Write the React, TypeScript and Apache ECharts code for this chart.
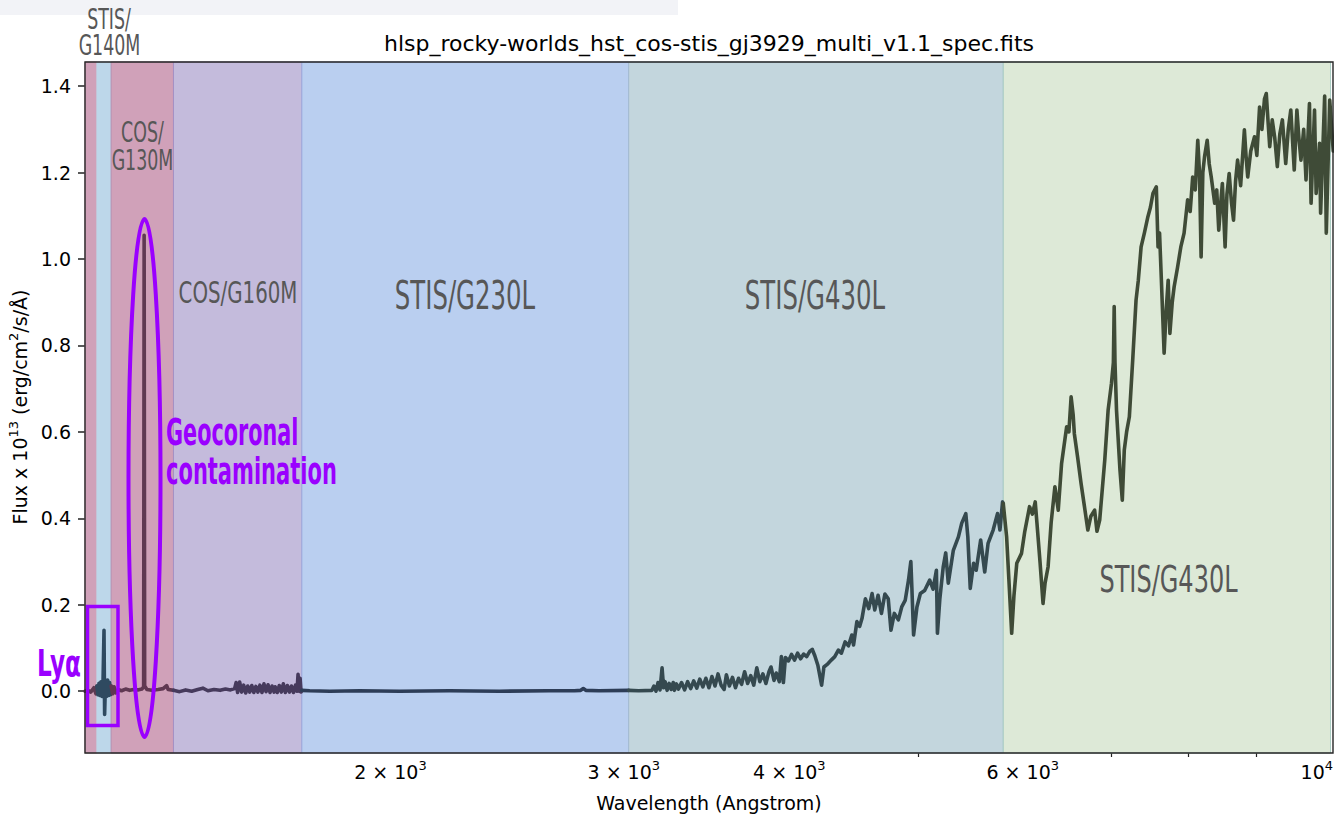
import React, { useEffect, useRef } from 'react';
import * as echarts from 'echarts';

const TITLE = 'hlsp_rocky-worlds_hst_cos-stis_gj3929_multi_v1.1_spec.fits';
const X_NAME = 'Wavelength (Angstrom)';
const X_MIN = 1176.5;
const X_MAX = 10242;
const Y_MIN = -0.143;
const Y_MAX = 1.456;

const xMajorTicks = [2000, 3000, 4000, 6000, 10000];
const xMajorMant = ['2 × 10', '3 × 10', '4 × 10', '6 × 10', '10'];
const xMajorExp = ['3', '3', '3', '3', '4'];
const xMinorTicks = [5000, 7000, 8000, 9000];
const yTicks = [0, 0.2, 0.4, 0.6, 0.8, 1.0, 1.2, 1.4];
const yTickLabels = ['0.0', '0.2', '0.4', '0.6', '0.8', '1.0', '1.2', '1.4'];

// instrument bands (wavelength edges)
const bandEdges = [1176.5, 1201.1, 1231.1, 1372.0, 1714.9, 3025.7, 5800.4, 10242];
const bandFill = ['#d0a1b9', '#bdd7ea', '#d0a1b9', '#c4bbdc', '#bacff0', '#c3d6dd', '#dde9d7'];
const bandBorder = ['#d0a1b9', '#bdd7ea', '#b48fb0', '#a590c4', '#9eaedf', '#a3bccf', '#abcdc3'];
const lineColors = ['#5e3a52', '#2f4a60', '#603852', '#463a5c', '#2d3d57', '#35494f', '#3f4b37'];

// spectrum [wavelength (Å), flux x 1e13]
const specG130Ma = [[1176.5, 0.0], [1182.2, 0.002], [1188.5, -0.002], [1194.8, 0.008], [1199.0, -0.006], [1201.1, 0.012]];
const specG140M = [[1201.1, 0.012], [1203.3, -0.008], [1205.4, 0.018], [1207.5, -0.01], [1209.6, 0.022], [1211.8, -0.012], [1213.9, 0.02], [1216.0, 0.141], [1217.3, -0.054], [1219.2, 0.026], [1221.4, -0.012], [1223.6, 0.026], [1225.7, -0.01], [1227.9, 0.02], [1230.0, -0.008], [1231.1, 0.012]];
const specG130M = [[1231.1, 0.012], [1234.4, -0.006], [1237.6, 0.01], [1240.9, -0.004], [1246.4, 0.004], [1253.6, 0.001], [1262.5, 0.005], [1271.4, 0.002], [1280.4, 0.004], [1289.5, 0.003], [1298.6, 0.005], [1302.7, 0.01], [1303.8, 1.055], [1305.0, 0.012], [1310.1, 0.004], [1321.6, 0.002], [1335.7, 0.004], [1347.5, 0.006], [1355.8, 0.013], [1359.4, 0.004], [1366.6, 0.003], [1372.0, 0.002]];
const specG160M = [[1372.0, 0.002], [1386.5, -0.001], [1401.2, 0.003], [1416.1, 0.0], [1431.1, 0.004], [1443.8, 0.007], [1456.6, 0.001], [1472.0, 0.004], [1487.7, 0.002], [1501.7, 0.005], [1514.9, 0.003], [1525.7, 0.006], [1529.7, 0.02], [1533.7, -0.003], [1539.2, 0.021], [1544.6, -0.002], [1550.0, 0.014], [1555.5, -0.004], [1561.0, 0.012], [1566.5, -0.002], [1572.0, 0.013], [1577.6, -0.003], [1583.1, 0.011], [1588.7, -0.002], [1594.3, 0.014], [1600.0, -0.003], [1605.6, 0.017], [1611.3, -0.001], [1617.0, 0.015], [1622.7, -0.003], [1628.4, 0.012], [1634.1, -0.002], [1637.3, 0.01], [1643.1, -0.003], [1648.9, 0.013], [1654.7, -0.002], [1660.5, 0.017], [1666.4, -0.003], [1672.3, 0.013], [1678.2, -0.002], [1684.1, 0.012], [1690.0, -0.003], [1696.0, 0.014], [1700.5, 0.0], [1703.5, 0.039], [1706.5, 0.0], [1709.5, 0.03], [1712.5, -0.002], [1714.9, 0.002]];
const specG230L = [[1714.9, 0.002], [1738.4, 0.001], [1800.6, 0.0], [1896.0, 0.001], [2031.3, 0.0], [2215.5, 0.001], [2416.1, 0.0], [2634.8, 0.001], [2753.4, 0.001], [2783.8, 0.002], [2796.1, 0.006], [2808.4, 0.002], [2873.5, 0.001], [3025.7, 0.002]];
const specG430L = [[3025.7, 0.002], [3079.0, 0.001], [3150.3, 0.002], [3161.4, 0.012], [3172.6, 0.0], [3183.8, 0.02], [3195.0, 0.003], [3206.3, 0.054], [3214.8, 0.008], [3223.3, 0.022], [3234.6, 0.002], [3246.1, 0.018], [3257.5, 0.004], [3269.0, 0.02], [3276.1, 0.002], [3287.6, 0.017], [3299.2, 0.005], [3316.7, 0.02], [3334.2, 0.003], [3351.9, 0.022], [3369.7, 0.006], [3387.5, 0.024], [3405.5, 0.007], [3423.5, 0.028], [3441.7, 0.01], [3459.9, 0.03], [3478.2, 0.008], [3496.6, 0.034], [3515.2, 0.012], [3533.8, 0.04], [3552.5, 0.014], [3571.3, 0.004], [3585.3, 0.038], [3604.3, 0.012], [3623.4, 0.032], [3642.6, 0.008], [3661.9, 0.03], [3681.3, 0.016], [3700.8, 0.045], [3720.4, 0.018], [3740.2, 0.036], [3760.0, 0.014], [3779.9, 0.054], [3799.9, 0.022], [3820.0, 0.04], [3840.3, 0.018], [3860.6, 0.045], [3874.3, 0.056], [3894.7, 0.025], [3910.1, 0.042], [3930.8, 0.022], [3944.7, 0.08], [3958.6, 0.02], [3972.6, 0.078], [3993.6, 0.07], [4014.8, 0.085], [4036.1, 0.072], [4057.4, 0.088], [4079.0, 0.075], [4100.6, 0.086], [4122.3, 0.08], [4144.1, 0.092], [4162.4, 0.097], [4180.8, 0.082], [4202.9, 0.06], [4230.4, 0.014], [4247.5, 0.056], [4271.6, 0.062], [4301.8, 0.072], [4328.4, 0.08], [4355.2, 0.095], [4378.3, 0.088], [4406.9, 0.114], [4432.6, 0.105], [4458.4, 0.13], [4471.8, 0.107], [4497.9, 0.161], [4519.3, 0.15], [4537.7, 0.168], [4564.9, 0.214], [4591.6, 0.191], [4618.2, 0.226], [4639.6, 0.188], [4666.7, 0.222], [4693.9, 0.18], [4722.1, 0.225], [4749.6, 0.214], [4772.2, 0.141], [4800.1, 0.18], [4834.0, 0.165], [4862.2, 0.195], [4891.4, 0.21], [4919.9, 0.257], [4939.9, 0.3], [4948.6, 0.24], [4963.4, 0.13], [4992.4, 0.195], [5022.3, 0.226], [5059.7, 0.233], [5104.5, 0.257], [5134.3, 0.236], [5164.1, 0.28], [5173.3, 0.134], [5195.2, 0.214], [5225.5, 0.287], [5248.5, 0.32], [5271.7, 0.25], [5318.3, 0.326], [5365.4, 0.357], [5396.6, 0.389], [5434.8, 0.411], [5454.0, 0.357], [5477.1, 0.238], [5508.9, 0.296], [5533.9, 0.28], [5577.0, 0.35], [5616.4, 0.276], [5649.1, 0.342], [5699.1, 0.373], [5742.4, 0.411], [5766.7, 0.373], [5793.2, 0.438], [5800.4, 0.434]];
const specRed = [[5800.4, 0.434], [5834.2, 0.357], [5856.8, 0.26], [5885.7, 0.134], [5908.6, 0.22], [5937.9, 0.296], [5987.2, 0.319], [6021.3, 0.37], [6071.3, 0.427], [6101.3, 0.41], [6131.5, 0.438], [6149.9, 0.389], [6182.5, 0.3], [6215.2, 0.203], [6237.2, 0.25], [6270.2, 0.288], [6303.4, 0.39], [6344.6, 0.473], [6381.6, 0.419], [6418.8, 0.527], [6475.6, 0.612], [6500.8, 0.6], [6526.0, 0.681], [6548.9, 0.64], [6562.7, 0.596], [6600.9, 0.54], [6639.4, 0.481], [6676.9, 0.43], [6718.2, 0.373], [6753.8, 0.405], [6797.9, 0.419], [6825.6, 0.37], [6858.1, 0.396], [6886.0, 0.46], [6918.8, 0.535], [6959.1, 0.65], [6999.7, 0.712], [7023.1, 0.76], [7033.0, 0.89], [7042.9, 0.76], [7061.6, 0.65], [7104.0, 0.512], [7132.9, 0.442], [7157.4, 0.558], [7186.4, 0.6], [7220.8, 0.635], [7262.9, 0.766], [7305.2, 0.905], [7333.6, 0.95], [7369.8, 1.028], [7411.4, 1.06], [7457.3, 1.098], [7490.2, 1.12], [7523.3, 1.152], [7567.1, 1.167], [7589.8, 1.028], [7609.9, 1.06], [7634.0, 0.951], [7670.4, 0.782], [7697.5, 0.88], [7724.7, 0.951], [7747.8, 0.828], [7779.3, 0.9], [7805.1, 0.936], [7850.6, 0.98], [7896.3, 1.028], [7941.0, 1.06], [7990.1, 1.137], [8025.4, 1.11], [8060.8, 1.19], [8096.4, 1.16], [8132.1, 1.275], [8156.5, 1.2], [8179.5, 1.005], [8204.0, 1.2], [8228.6, 1.237], [8266.4, 1.275], [8295.6, 1.22], [8324.8, 1.19], [8374.8, 1.129], [8404.4, 1.16], [8434.1, 1.067], [8468.3, 1.14], [8487.3, 1.175], [8527.8, 1.028], [8554.9, 1.15], [8588.2, 1.198], [8623.0, 1.13], [8653.4, 1.09], [8684.0, 1.18], [8714.6, 1.229], [8760.8, 1.17], [8818.1, 1.299], [8842.9, 1.24], [8869.5, 1.19], [8916.5, 1.25], [8974.8, 1.283], [9011.2, 1.24], [9054.2, 1.352], [9090.9, 1.3], [9131.1, 1.37], [9160.1, 1.383], [9187.6, 1.32], [9215.1, 1.26], [9255.4, 1.322], [9296.3, 1.28], [9337.4, 1.214], [9378.7, 1.29], [9420.0, 1.322], [9474.9, 1.221], [9516.7, 1.3], [9558.7, 1.345], [9616.1, 1.206], [9660.3, 1.345], [9694.4, 1.28], [9728.6, 1.229], [9775.0, 1.3], [9814.7, 1.183], [9873.6, 1.36], [9901.4, 1.129], [9960.9, 1.345], [9989.1, 1.152], [10049.0, 1.268], [10066.8, 1.106], [10138.0, 1.377], [10166.6, 1.06], [10227.6, 1.368], [10290.0, 1.25]];

const spectra = [specG130Ma, specG140M, specG130M, specG160M, specG230L, specG430L, specRed];

const COND_FONT = '"Liberation Sans Narrow", "DejaVu Sans Condensed", "Noto Sans", sans-serif';
const TXT_GRAY = '#575757';
const PURPLE = '#9a00ff';

function grayLabel(text: string, x: number, y: number, size: number, sy: number, sx: number) {
  return {
    type: 'text', x, y, scaleX: sx, scaleY: sy, z: 50, silent: true,
    style: { text, fill: TXT_GRAY, fontSize: size, fontFamily: COND_FONT, align: 'center', verticalAlign: 'middle' },
  };
}
function purpleLabel(text: string, x: number, y: number, size: number, sy: number, sx: number, align = 'left') {
  return {
    type: 'text', x, y, scaleX: sx, scaleY: sy, z: 60, silent: true,
    style: { text, fill: PURPLE, fontSize: size, fontWeight: 'bold', fontFamily: COND_FONT, align, verticalAlign: 'middle' },
  };
}

function buildOption() {
  const tickFont = { fontFamily: 'DejaVu Sans', color: '#000' };
  const xRich = {
    b: { ...tickFont, fontSize: 19, lineHeight: 26 },
    s: { ...tickFont, fontSize: 13, lineHeight: 13, verticalAlign: 'top' },
  };
  const xFormatter = (v: number) => {
    const i = xMajorTicks.findIndex((t) => Math.abs(t - v) < 1e-6 * t);
    if (i < 0) return '';
    return `{b|${xMajorMant[i]}}{s|${xMajorExp[i]}}`;
  };
  const yFormatter = (v: number) => {
    const i = yTicks.findIndex((t) => Math.abs(t - v) < 1e-6);
    return i < 0 ? '' : yTickLabels[i];
  };

  const markData = bandFill.map((c, i) => [
    { xAxis: bandEdges[i], itemStyle: { color: c, borderColor: bandBorder[i], borderWidth: 1 } },
    { xAxis: bandEdges[i + 1] },
  ]);

  const series: any[] = [
    {
      type: 'line', data: [], z: 1, silent: true,
      markArea: { silent: true, data: markData, label: { show: false } },
    },
  ];
  spectra.forEach((d, i) => {
    series.push({
      type: 'line', data: d, z: 3, showSymbol: false, symbol: 'none', silent: true,
      lineStyle: { color: lineColors[i], width: 3.6, join: 'round', cap: 'round' },
      emphasis: { disabled: true },
    });
  });

  return {
    animation: false,
    backgroundColor: '#ffffff',
    grid: { left: 85, right: 3, top: 62, bottom: 63, containLabel: false },
    xAxis: [
      {
        type: 'log', logBase: 10, min: X_MIN, max: X_MAX, position: 'bottom',
        axisLine: { show: false },
        splitLine: { show: false },
        axisTick: { show: true, customValues: xMajorTicks, length: 7, lineStyle: { color: '#222', width: 1.5 } },
        axisLabel: { show: true, customValues: xMajorTicks, formatter: xFormatter, margin: 6, rich: xRich },
        minorTick: { show: false },
      },
      {
        type: 'log', logBase: 10, min: X_MIN, max: X_MAX, position: 'bottom',
        axisLine: { show: false },
        splitLine: { show: false },
        axisTick: { show: true, customValues: xMinorTicks, length: 4, lineStyle: { color: '#222', width: 1.2 } },
        axisLabel: { show: false },
      },
    ],
    yAxis: {
      type: 'value', min: Y_MIN, max: Y_MAX,
      axisLine: { show: false },
      splitLine: { show: false },
      axisTick: { show: true, customValues: yTicks, length: 7, lineStyle: { color: '#222', width: 1.5 } },
      axisLabel: { show: true, customValues: yTicks, formatter: yFormatter, margin: 14, fontSize: 19, fontFamily: 'DejaVu Sans', color: '#000' },
    },
    series,
    graphic: {
      elements: [
        { type: 'rect', z: 0, silent: true, shape: { x: 0, y: 0, width: 678, height: 15 }, style: { fill: '#f2f3f7' } },
        // frame
        { type: 'rect', z: 90, silent: true, shape: { x: 85, y: 62, width: 1248, height: 691 }, style: { fill: 'none', stroke: '#262626', lineWidth: 1.4 } },
        // title
        { type: 'text', x: 709, y: 43, z: 90, silent: true, style: { text: TITLE, fill: '#000', fontSize: 22, fontFamily: 'DejaVu Sans', align: 'center', verticalAlign: 'middle' } },
        // x axis name
        { type: 'text', x: 709, y: 803, z: 90, silent: true, style: { text: X_NAME, fill: '#000', fontSize: 19, fontFamily: 'DejaVu Sans', align: 'center', verticalAlign: 'middle' } },
        // y axis name
        {
          type: 'text', x: 20, y: 407, rotation: Math.PI / 2, z: 90, silent: true,
          style: {
            text: '{a|Flux x 10}{s|13}{a| (erg/cm}{s|2}{a|/s/Å)}',
            align: 'center', verticalAlign: 'middle',
            rich: {
              a: { fontSize: 19, fontFamily: 'DejaVu Sans', fill: '#000', lineHeight: 26 },
              s: { fontSize: 13, fontFamily: 'DejaVu Sans', fill: '#000', lineHeight: 13, verticalAlign: 'top' },
            },
          },
        },
        // band labels
        grayLabel('STIS/', 109, 20, 22, 1.28, 0.88),
        grayLabel('G140M', 109.5, 45, 22, 1.3, 0.88),
        grayLabel('COS/', 142.5, 133, 22, 1.28, 0.88),
        grayLabel('G130M', 142.5, 160, 22, 1.3, 0.88),
        grayLabel('COS/G160M', 238, 292.5, 25, 1.18, 0.88),
        grayLabel('STIS/G230L', 465, 295.5, 31, 1.26, 0.875),
        grayLabel('STIS/G430L', 815, 295.5, 31, 1.26, 0.875),
        grayLabel('STIS/G430L', 1168.5, 579.5, 30.5, 1.24, 0.875),
        // annotations
        { type: 'ellipse', z: 70, silent: true, shape: { cx: 144.5, cy: 478, rx: 16, ry: 259 }, style: { fill: 'none', stroke: PURPLE, lineWidth: 4 } },
        { type: 'rect', z: 70, silent: true, shape: { x: 87.5, y: 606.5, width: 30.5, height: 119 }, style: { fill: 'none', stroke: PURPLE, lineWidth: 3.5 } },
        purpleLabel('Lyα', 59, 663, 30, 1.22, 0.86, 'center'),
        purpleLabel('Geocoronal', 166, 432, 30, 1.26, 0.77),
        purpleLabel('contamination', 166, 471, 32, 1.18, 0.73),
      ],
    },
  };
}

export default function App() {
  const ref = useRef<HTMLDivElement>(null);
  useEffect(() => {
    if (!ref.current) return;
    const chart = echarts.init(ref.current, null, { renderer: 'svg' });
    chart.setOption(buildOption() as any);
    return () => chart.dispose();
  }, []);
  return (
    <div
      ref={ref}
      style={{ position: 'fixed', left: 0, top: 0, width: 1336, height: 816, background: '#fff' }}
    />
  );
}
